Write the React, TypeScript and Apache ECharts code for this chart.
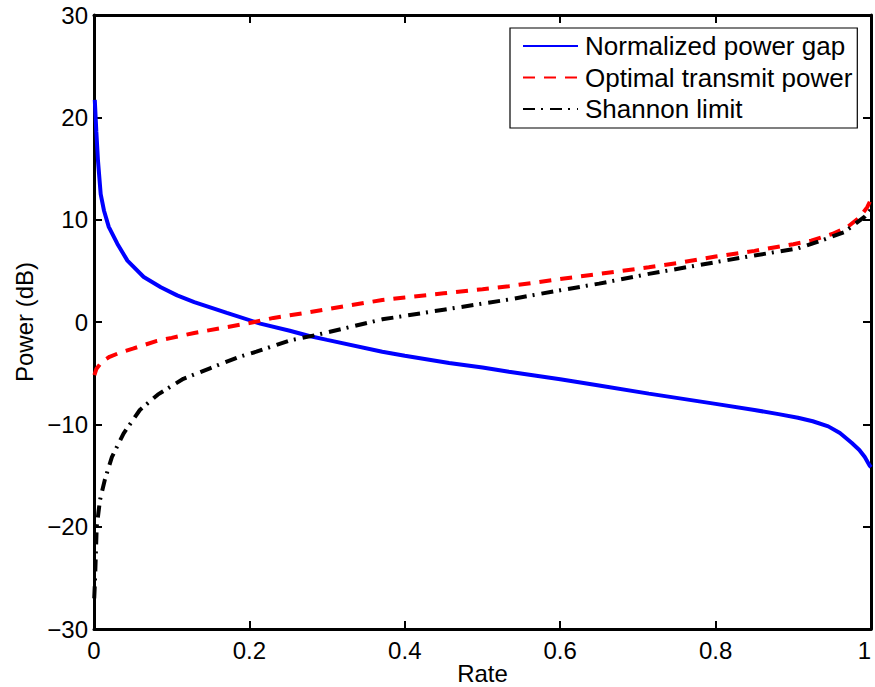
import React, { useEffect, useRef } from "react";
import * as echarts from "echarts";

// Rate (x) and power (dB, y) readings for each curve
const rateGap = [0.001, 0.003, 0.0051, 0.0086, 0.0128, 0.019, 0.03, 0.043, 0.064, 0.086, 0.107, 0.129, 0.171, 0.214, 0.252, 0.277, 0.3, 0.371, 0.4, 0.457, 0.5, 0.534, 0.6, 0.65, 0.714, 0.8, 0.85, 0.881, 0.906, 0.925, 0.945, 0.96, 0.975, 0.985, 0.992, 0.998, 1];
const gapDb = [21.7, 18.6, 15.8, 12.5, 10.9, 9.3, 7.65, 6.0, 4.4, 3.4, 2.6, 1.95, 0.9, -0.16, -0.85, -1.37, -1.75, -2.9, -3.3, -4.0, -4.45, -4.86, -5.6, -6.2, -7.0, -8.0, -8.6, -9.0, -9.35, -9.7, -10.2, -10.85, -11.8, -12.5, -13.2, -14.0, -14.2];

const rateOpt = [0.0005, 0.003, 0.01, 0.02, 0.035, 0.05, 0.081, 0.1, 0.129, 0.171, 0.2, 0.231, 0.252, 0.3, 0.371, 0.4, 0.45, 0.5, 0.534, 0.6, 0.65, 0.714, 0.75, 0.8, 0.85, 0.9, 0.923, 0.95, 0.97, 0.985, 0.995, 1];
const optDb = [-5.2, -4.6, -3.9, -3.4, -2.95, -2.6, -1.85, -1.55, -1.07, -0.5, -0.1, 0.4, 0.65, 1.25, 2.15, 2.4, 2.8, 3.2, 3.5, 4.2, 4.7, 5.35, 5.75, 6.4, 6.95, 7.6, 7.95, 8.6, 9.3, 10.2, 11.2, 12.0];

const rateSh = [0.0003, 0.0013, 0.0035, 0.0077, 0.014, 0.023, 0.038, 0.059, 0.082, 0.115, 0.15, 0.187, 0.209, 0.252, 0.286, 0.33, 0.371, 0.45, 0.534, 0.6, 0.65, 0.714, 0.8, 0.85, 0.906, 0.932, 0.966, 0.992, 1];
const shDb = [-27, -25.2, -20, -17.4, -15.4, -13.2, -10.9, -8.6, -7.1, -5.55, -4.5, -3.4, -2.9, -1.8, -1.27, -0.48, 0.26, 1.2, 2.2, 3.1, 3.75, 4.7, 5.85, 6.5, 7.2, 7.85, 8.8, 10.3, 11.0];

const seriesNames = ["Normalized power gap", "Optimal transmit power", "Shannon limit"];
const xTicks = { min: 0, max: 1, interval: 0.2 };
const yTicks = { min: -30, max: 30, interval: 10 };

const FONT = "'Liberation Sans', Arial, Helvetica, sans-serif";

const zip = (xs: number[], ys: number[]) => xs.map((x, i) => [x, ys[i]]);
const fmtY = (v: number) => (v < 0 ? "\u2212" + Math.abs(v) : String(v));

export default function App() {
  const ref = useRef<HTMLDivElement>(null);
  useEffect(() => {
    document.body.style.margin = "0";
    const chart = echarts.init(ref.current!, undefined, { renderer: "svg" });
    const axisLine = { show: true, onZero: false, lineStyle: { color: "#000", width: 3 } };
    const tick = { show: true, inside: true, length: 8, lineStyle: { color: "#000", width: 2 } };
    const lineSeries = { type: "line", symbol: "none", showSymbol: false, smooth: false };
    chart.setOption({
      animation: false,
      backgroundColor: "#fff",
      grid: { left: 94, top: 15, width: 777, height: 614, outerBoundsMode: "none", containLabel: false },
      xAxis: [
        {
          type: "value", ...xTicks, position: "bottom",
          name: "Rate", nameLocation: "middle", nameGap: 33, nameMoveOverlap: false,
          nameTextStyle: { fontSize: 24, lineHeight: 22, fontFamily: FONT, color: "#000" },
          axisLine, axisTick: tick, splitLine: { show: false },
          axisLabel: { fontSize: 24, fontFamily: FONT, color: "#000", margin: 9, alignMaxLabel: "right" },
        },
        {
          type: "value", ...xTicks, position: "top",
          axisLine, axisTick: tick, splitLine: { show: false }, axisLabel: { show: false },
        },
      ],
      yAxis: [
        {
          type: "value", ...yTicks, position: "left",
          name: "Power (dB)", nameLocation: "middle", nameGap: 58, nameMoveOverlap: false,
          nameTextStyle: { fontSize: 24, fontFamily: FONT, color: "#000" },
          axisLine, axisTick: tick, splitLine: { show: false },
          axisLabel: { fontSize: 24, fontFamily: FONT, color: "#000", margin: 6, formatter: fmtY },
        },
        {
          type: "value", ...yTicks, position: "right",
          axisLine, axisTick: tick, splitLine: { show: false }, axisLabel: { show: false },
        },
      ],
      legend: {
        orient: "vertical", left: 510, top: 28,
        padding: [5, 5, 6, 12], itemGap: 5.5, itemWidth: 55, itemHeight: 14,
        backgroundColor: "#fff", borderColor: "#000", borderWidth: 1.2, borderRadius: 0,
        itemStyle: { opacity: 0 },
        textStyle: { fontSize: 26, fontFamily: FONT, color: "#000", padding: [0, 0, 0, 2] },
        data: seriesNames,
      },
      series: [
        {
          ...lineSeries, name: seriesNames[0], data: zip(rateGap, gapDb), color: "#0000ff",
          lineStyle: { color: "#0000ff", width: 4, type: "solid" },
        },
        {
          ...lineSeries, name: seriesNames[1], data: zip(rateOpt, optDb), color: "#ff0000",
          lineStyle: { color: "#ff0000", width: 4, type: [12, 9] },
        },
        {
          ...lineSeries, name: seriesNames[2], data: zip(rateSh, shDb), color: "#000000",
          lineStyle: { color: "#000000", width: 4, type: [12, 6, 2, 7] },
        },
      ],
    });
    return () => chart.dispose();
  }, []);
  return <div ref={ref} style={{ position: "absolute", left: 0, top: 0, width: 875, height: 687 }} />;
}
